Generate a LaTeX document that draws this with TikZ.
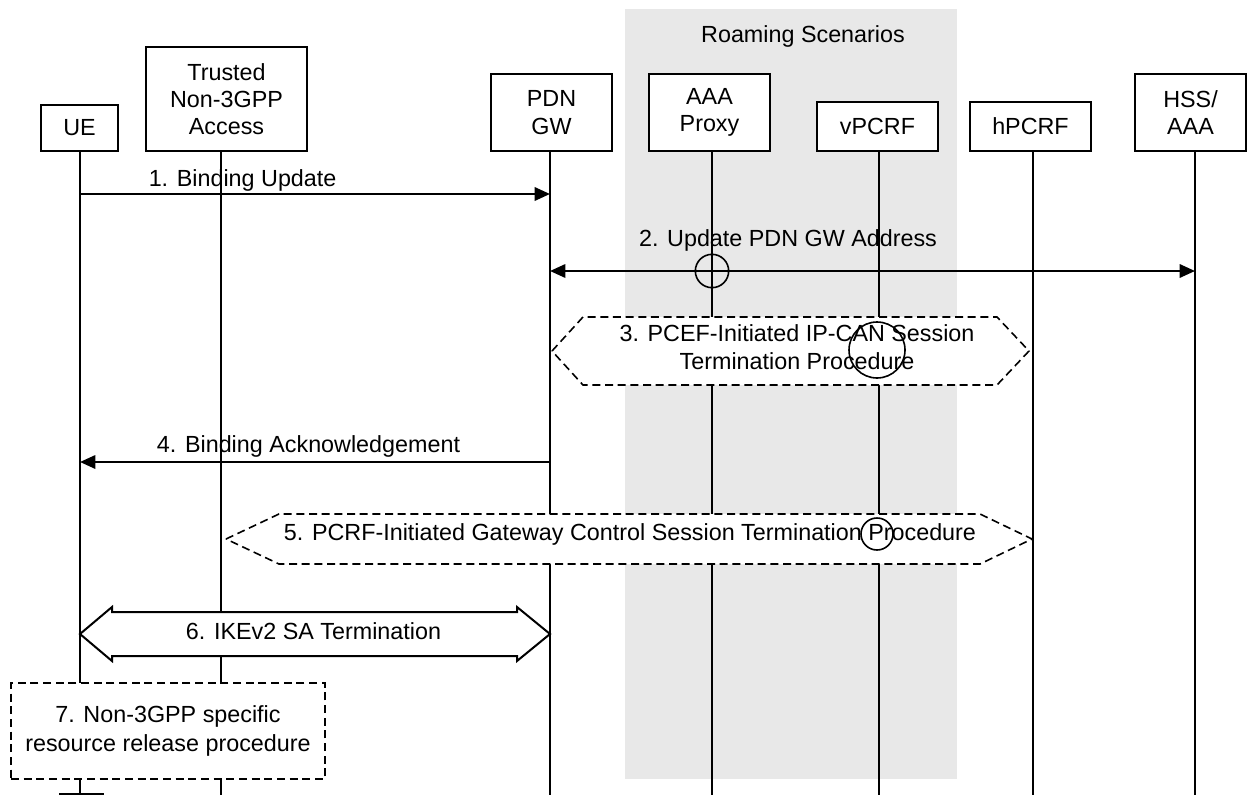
\documentclass[tikz,border=0pt]{standalone}
\usepackage{fontspec}
\setmainfont{Liberation Sans}
\usetikzlibrary{arrows.meta}
\definecolor{roam}{HTML}{E8E8E8}
\begin{document}
\begin{tikzpicture}[x=0.75pt,y=-0.75pt,
  font=\fontsize{17.5}{20.5}\selectfont,
  box/.style={draw, line width=1.4pt, fill=white, inner sep=0pt, align=center},
  life/.style={line width=1.25pt},
  msg/.style={line width=1.75pt},
  tip/.style={-{Triangle[length=11.5pt,width=10pt]}},
  dtip/.style={{Triangle[length=11.5pt,width=10pt]}-{Triangle[length=11.5pt,width=10pt]}},
  proc/.style={draw, line width=1.2pt, dash pattern=on 6pt off 3.5pt, fill=white},
  lbl/.style={anchor=base, inner sep=0pt},
  txt/.style={inner sep=0pt, align=center},
  xcirc/.style={draw, circle, line width=1.2pt, inner sep=0pt}
]
\useasboundingbox (0,0) rectangle (1248,795);
% roaming area
\fill[roam] (625,9) rectangle (957,779);
\node[lbl] (roamlbl) at (803,42.7) {Roaming Scenarios};

% entity boxes
\node[box, minimum width=57.75pt, minimum height=34.5pt] (ue) at (79.5,128) {UE};
\node[box, minimum width=120.75pt, minimum height=78pt] (tn) at (226.5,99) {Trusted\\Non-3GPP\\Access};
\node[box, minimum width=90.75pt, minimum height=57.75pt] (pdn) at (551.5,112.5) {PDN\\GW};
\node[box, minimum width=90.75pt, minimum height=57.75pt] (aaa) at (709.5,112.5) {AAA\\Proxy};
\node[box, minimum width=90.75pt, minimum height=36.75pt] (vp) at (877.5,126.5) {vPCRF};
\node[box, minimum width=90.75pt, minimum height=36.75pt] (hp) at (1030.5,126.5) {hPCRF};
\node[box, minimum width=83.25pt, minimum height=57.75pt] (hss) at (1190.5,112.5) {HSS/\\AAA};

% lifeline ends
\coordinate (ueL) at (80,795);
\coordinate (tnL) at (221,795);
\coordinate (pdnL) at (550,795);
\coordinate (aaaL) at (712,795);
\coordinate (vpL) at (879,795);
\coordinate (hpL) at (1033,795);
\coordinate (hssL) at (1195,795);

\draw[life] (ue.south -| ueL) -- (ueL);
\draw[life] (tn.south -| tnL) -- (tnL);
\draw[life] (pdn.south -| pdnL) -- (pdnL);
\draw[life] (aaa.south -| aaaL) -- (aaaL);
\draw[life] (vp.south -| vpL) -- (vpL);
\draw[life] (hp.south -| hpL) -- (hpL);
\draw[life] (hss.south -| hssL) -- (hssL);

% 1
\draw[msg,tip] (ueL |- 0,194) -- (pdnL |- 0,194);
\node[lbl] (m1) at (242.6,186.7) {1. Binding Update};
% 2
\draw[msg,dtip] (pdnL |- 0,271) -- (hssL |- 0,271);
\node[lbl] (m2) at (788,246) {2. Update PDN GW Address};
\node[xcirc, minimum size=25pt] (c2) at (aaaL |- 0,271) {};
% 3
\draw[proc] (552,351) -- (583,317) -- (997,317) -- (1029,351) -- (997,385) -- (583,385) -- cycle;
\node[txt] (m3) at (797,347) {3. PCEF-Initiated IP-CAN Session\\Termination Procedure};
\node[xcirc, minimum size=42pt] (c3) at (877,350) {};
% 4
\draw[msg,tip] (pdnL |- 0,462) -- (ueL |- 0,462);
\node[lbl] (m4) at (308.5,452) {4. Binding Acknowledgement};
% 5
\draw[proc] (226,539) -- (279,514) -- (980,514) -- (1032,539) -- (980,564) -- (279,564) -- cycle;
\node[lbl] (m5) at (630,540) {5. PCRF-Initiated Gateway Control Session Termination Procedure};
\node[xcirc, minimum size=24pt] (c5) at (877,534) {};
% 6
\draw[line width=1.5pt, fill=white] (ueL |- 0,634) -- (112,607) -- (112,612) -- (517,612) -- (517,607)
  -- (pdnL |- 0,634) -- (517,661) -- (517,656) -- (112,656) -- (112,661) -- cycle;
\node[lbl] (m6) at (313.5,639.6) {6. IKEv2 SA Termination};
% 7
\node[proc, minimum width=235.5pt, minimum height=72pt, align=center, inner sep=0pt,
  font=\fontsize{17.5}{22}\selectfont] (m7) at (168,731)
  {7. Non-3GPP specific\\resource release procedure};
% bottom tick
\draw[life] (59,794) -- (104,794);
\end{tikzpicture}
\end{document}
